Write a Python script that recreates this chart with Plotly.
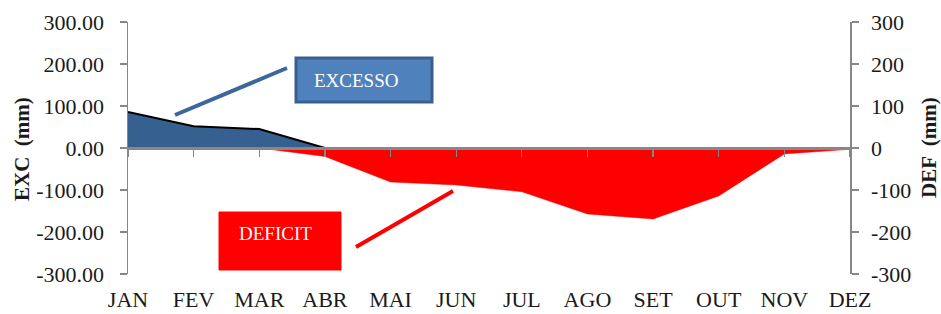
import plotly.graph_objects as go

months = ["JAN", "FEV", "MAR", "ABR", "MAI", "JUN", "JUL", "AGO", "SET", "OUT", "NOV", "DEZ"]
exc = [86, 52, 45, 0, 0, 0, 0, 0, 0, 0, 0, 0]
deficit = [0, 0, 0, -20, -81, -88, -104, -157, -169, -114, -14, -3]
left_ticks = [300, 200, 100, 0, -100, -200, -300]
left_labels = ["300.00", "200.00", "100.00", "0.00", "-100.00", "-200.00", "-300.00"]
right_labels = ["300", "200", "100", "0", "-100", "-200", "-300"]

FONT = "Liberation Serif, Times New Roman, serif"
W, H = 941, 314
# plot area in page pixels
L, R, T, B = 128, 850, 22, 274
x_idx = list(range(len(months)))


def px(x):
    return (x - L) / (R - L)


def py(y):
    return (B - y) / (B - T)


fig = go.Figure()
fig.add_trace(go.Scatter(
    x=x_idx, y=exc, mode="lines", fill="tozeroy",
    fillcolor="#36608F", line=dict(color="black", width=2),
    hoverinfo="skip", xaxis="x", yaxis="y"))
fig.add_trace(go.Scatter(
    x=x_idx, y=deficit, mode="lines", fill="tozeroy",
    fillcolor="#FF0000", line=dict(color="#FF0000", width=0.5),
    hoverinfo="skip", xaxis="x2", yaxis="y2"))

axis_gray = "#878787"
tick_font = dict(family=FONT, size=22, color="#1a1a1a")

fig.update_layout(
    width=W, height=H,
    margin=dict(l=L, r=W - R, t=T, b=H - B, autoexpand=False),
    paper_bgcolor="white", plot_bgcolor="white",
    showlegend=False,
    xaxis=dict(
        range=[0, 11], tickvals=x_idx, ticktext=months, automargin=False,
        showline=False, showgrid=False, zeroline=False, ticks="",
        tickfont=dict(family=FONT, size=22, color="#1a1a1a"), ticklabelstandoff=10),
    xaxis2=dict(
        range=[0, 11], overlaying="x", anchor="free", position=0.5,
        side="bottom", tickvals=x_idx, showticklabels=False, automargin=False,
        showline=True, linecolor=axis_gray, linewidth=3,
        ticks="outside", ticklen=7, tickwidth=1.2, tickcolor=axis_gray,
        showgrid=False, zeroline=False),
    yaxis=dict(
        range=[-300, 300], tickvals=left_ticks, ticktext=left_labels, automargin=False,
        showline=True, linecolor=axis_gray, linewidth=1.5,
        ticks="outside", ticklen=7, tickcolor=axis_gray, tickwidth=1.2,
        showgrid=False, zeroline=False, tickfont=tick_font,
        ticklabelstandoff=11),
    yaxis2=dict(
        range=[-300, 300], tickvals=left_ticks, ticktext=right_labels, automargin=False,
        overlaying="y", side="right", anchor="x",
        showline=True, linecolor=axis_gray, linewidth=1.5,
        ticks="outside", ticklen=7, tickcolor=axis_gray, tickwidth=1.2,
        showgrid=False, zeroline=False, tickfont=tick_font,
        ticklabelstandoff=8),
)

shapes = [
    # EXCESSO callout
    dict(type="rect", xref="paper", yref="paper",
         x0=px(296), x1=px(432), y0=py(102), y1=py(58),
         fillcolor="#4F81BD", line=dict(color="#3A5F8C", width=3), layer="above"),
    dict(type="line", xref="paper", yref="paper",
         x0=px(175), y0=py(115), x1=px(287), y1=py(68),
         line=dict(color="#3B679B", width=4)),
    # DEFICIT callout
    dict(type="rect", xref="paper", yref="paper",
         x0=px(219), x1=px(341), y0=py(270), y1=py(212),
         fillcolor="#FF0000", line=dict(color="#FF0000", width=1), layer="above"),
    dict(type="line", xref="paper", yref="paper",
         x0=px(356), y0=py(247), x1=px(453), y1=py(191),
         line=dict(color="#FF0000", width=4)),
]
fig.update_layout(shapes=shapes)

annotations = [
    dict(text="EXCESSO", xref="paper", yref="paper", x=px(356), y=py(81),
         xanchor="center", yanchor="middle", showarrow=False,
         font=dict(family=FONT, size=19, color="white")),
    dict(text="DEFICIT", xref="paper", yref="paper", x=px(275), y=py(233),
         xanchor="center", yanchor="middle", showarrow=False,
         font=dict(family=FONT, size=19, color="white")),
    dict(text="<b>EXC  (mm)</b>", xref="paper", yref="paper", x=px(22), y=py(149),
         xanchor="center", yanchor="middle", showarrow=False, textangle=-90,
         font=dict(family=FONT, size=21, color="#1a1a1a")),
    dict(text="<b>DEF  (mm)</b>", xref="paper", yref="paper", x=px(929), y=py(148),
         xanchor="center", yanchor="middle", showarrow=False, textangle=-90,
         font=dict(family=FONT, size=21, color="#1a1a1a")),
]
fig.update_layout(annotations=annotations)

fig.write_html(
    "out.html",
    config={"displayModeBar": False, "staticPlot": True},
    post_script="document.body.style.margin='0';document.body.style.overflow='hidden';",
)
